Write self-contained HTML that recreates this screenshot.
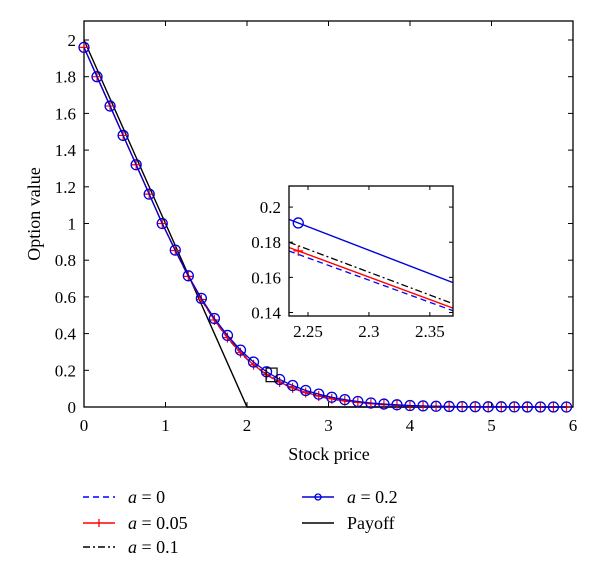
<!DOCTYPE html>
<html><head><meta charset="utf-8"><style>
html,body{margin:0;padding:0;background:#fff;}
svg{display:block;font-family:"Liberation Serif",serif;}
</style></head><body>
<svg id="chart" width="600" height="578" viewBox="0 0 600 578"></svg>
<script>
const xs = [0,0.16,0.32,0.48,0.64,0.8,0.96,1.12,1.28,1.44,1.6,1.76,1.92,2.08,2.24,2.4,2.56,2.72,2.88,3.04,3.2,3.36,3.52,3.68,3.84,4.0,4.16,4.32,4.48,4.64,4.8,4.96,5.12,5.28,5.44,5.6,5.76,5.92];
const a02 = [1.96,1.80,1.64,1.48,1.32,1.16,1.0,0.855,0.715,0.592,0.482,0.39,0.31,0.245,0.192,0.15,0.117,0.09,0.07,0.053,0.04,0.03,0.022,0.016,0.012,0.008,0.006,0.004,0.003,0.002,0.0015,0.001,0.001,0.0005,0.0003,0.0002,0.0001,0];
const a005 = [1.96,1.80,1.64,1.48,1.32,1.16,1.0,0.853,0.712,0.586,0.474,0.378,0.296,0.23,0.177,0.136,0.104,0.079,0.06,0.045,0.034,0.025,0.018,0.013,0.009,0.006,0.004,0.003,0.002,0.001,0.001,0.0005,0.0003,0.0002,0.0001,0,0,0];
const a0 = a005.map((v,i)=>v - (i>=8&&i<=20?0.0025:0));
const a01 = a005.map((v,i)=>v + (i>=8&&i<=20?0.003:0));
const payoffX = [0,2,6];
const payoffY = [2,0,0];
const xTicks = [0,1,2,3,4,5,6];
const yTicks = [0,0.2,0.4,0.6,0.8,1,1.2,1.4,1.6,1.8,2];
const yTickLabels = ["0","0.2","0.4","0.6","0.8","1","1.2","1.4","1.6","1.8","2"];
const inXTicks = [2.25,2.3,2.35];
const inYTicks = [0.14,0.16,0.18,0.2];
const inYTickLabels = ["0.14","0.16","0.18","0.2"];
const inX0=[2.2344,2.369], inY0=[0.138,0.212];
const inA02=[0.193,0.157], inA005=[0.177,0.1425], inA01=[0.180,0.145], inA0=[0.175,0.141];

const NS="http://www.w3.org/2000/svg";
const svg=document.getElementById('chart');
function mk(t,at,parent){const e=document.createElementNS(NS,t);for(const k in at)e.setAttribute(k,at[k]);(parent||svg).appendChild(e);return e;}
// main axes
const L=84,R=573,T=21,B=407;
const X=v=>L+v*(R-L)/6.0;
const Y=v=>B-v*183.5;
const plot=mk('g',{});


const frame=mk('rect',{x:L,y:T,width:R-L,height:B-T,fill:'none',stroke:'#000','stroke-width':1.3},plot);


xTicks.forEach(t=>{
  mk('line',{x1:X(t),x2:X(t),y1:B,y2:B-5,stroke:'#000'},plot);
  mk('line',{x1:X(t),x2:X(t),y1:T,y2:T+5,stroke:'#000'},plot);
  const tx=mk('text',{x:X(t),y:431,'text-anchor':'middle','font-size':17},plot);tx.textContent=t;
  
  
});
yTicks.forEach((t,i)=>{
  mk('line',{x1:L,x2:L+5,y1:Y(t),y2:Y(t),stroke:'#000'},plot);
  mk('line',{x1:R,x2:R-5,y1:Y(t),y2:Y(t),stroke:'#000'},plot);
  const tx=mk('text',{x:L-8,y:Y(t)+6,'text-anchor':'end','font-size':17},plot);tx.textContent=yTickLabels[i];
  
  
});
const xt=mk('text',{x:329,y:460,'text-anchor':'middle','font-size':18});xt.textContent='Stock price';


const yt=mk('text',{x:40,y:214,'text-anchor':'middle','font-size':18,transform:'rotate(-90 40 214)'});yt.textContent='Option value';


function pts(xa,ya,fx,fy){return xa.map((x,i)=>fx(x)+','+fy(ya[i])).join(' ');}
function series(name,xa,ya,fx,fy,st,parent){const p=mk('polyline',Object.assign({points:pts(xa,ya,fx,fy),fill:'none'},st),parent);return p;}
series('series-payoff',payoffX,payoffY,X,Y,{stroke:'#000','stroke-width':1.4},plot);
series('series-a-0',xs,a0,X,Y,{stroke:'#0000ff','stroke-width':1.2,'stroke-dasharray':'6 4'},plot);
series('series-a-0-1',xs,a01,X,Y,{stroke:'#000','stroke-width':1.2,'stroke-dasharray':'7 3 2 3'},plot);
series('series-a-0-05',xs,a005,X,Y,{stroke:'#ff0000','stroke-width':1.3},plot);
xs.forEach((x,i)=>{
  const g=mk('path',{d:`M${X(x)-5},${Y(a005[i])}h10M${X(x)},${Y(a005[i])-5}v10`,stroke:'#ff0000','stroke-width':1.2},plot);
  
  
});
series('series-a-0-2',xs,a02,X,Y,{stroke:'#0000dd','stroke-width':1.3},plot);
xs.forEach((x,i)=>{
  const c=mk('circle',{cx:X(x),cy:Y(a02[i]),r:5,fill:'none',stroke:'#0000dd','stroke-width':1.3},plot);
  
  
});
// zoom box
const zb=mk('rect',{x:X(inX0[0]),y:Y(inY0[1]),width:X(inX0[1])-X(inX0[0]),height:Y(inY0[0])-Y(inY0[1]),fill:'none',stroke:'#000','stroke-width':1.2},plot);


// inset
const IL=289,IR=453,IT=186,IB=316;
const IX=v=>IL+(v-inX0[0])*(IR-IL)/(inX0[1]-inX0[0]);
const IY=v=>IB-(v-inY0[0])*(IB-IT)/(inY0[1]-inY0[0]);
const ins=mk('g',{});


mk('rect',{x:IL,y:IT,width:IR-IL,height:IB-IT,fill:'#fff',stroke:'none'},ins);
const cp=mk('clipPath',{id:'ic'},ins);mk('rect',{x:IL,y:IT,width:IR-IL,height:IB-IT},cp);
const ig=mk('g',{'clip-path':'url(#ic)'},ins);
series('inset-a-0',inX0,inA0,IX,IY,{stroke:'#0000ff','stroke-width':1.3,'stroke-dasharray':'6 4'},ig);
series('inset-a-0-1',inX0,inA01,IX,IY,{stroke:'#000','stroke-width':1.3,'stroke-dasharray':'7 3 2 3'},ig);
series('inset-a-0-05',inX0,inA005,IX,IY,{stroke:'#ff0000','stroke-width':1.4},ig);
series('inset-a-0-2',inX0,inA02,IX,IY,{stroke:'#0000dd','stroke-width':1.4},ig);
const mx=2.242;
const ic=mk('circle',{cx:IX(mx),cy:IY(inA02[0]+(inA02[1]-inA02[0])*(mx-inX0[0])/(inX0[1]-inX0[0])),r:5,fill:'none',stroke:'#0000dd','stroke-width':1.3},ig);


const ry=IY(inA005[0]+(inA005[1]-inA005[0])*(mx-inX0[0])/(inX0[1]-inX0[0]));
const ip=mk('path',{d:`M${IX(mx)-5},${ry}h10M${IX(mx)},${ry-5}v10`,stroke:'#ff0000','stroke-width':1.2},ig);


mk('rect',{x:IL,y:IT,width:IR-IL,height:IB-IT,fill:'none',stroke:'#000','stroke-width':1.3},ins);
inXTicks.forEach(t=>{
  mk('line',{x1:IX(t),x2:IX(t),y1:IB,y2:IB-4,stroke:'#000'},ins);
  mk('line',{x1:IX(t),x2:IX(t),y1:IT,y2:IT+4,stroke:'#000'},ins);
  const tx=mk('text',{x:IX(t),y:337,'text-anchor':'middle','font-size':17},ins);tx.textContent=t;
  
  
});
inYTicks.forEach((t,i)=>{
  mk('line',{x1:IL,x2:IL+4,y1:IY(t),y2:IY(t),stroke:'#000'},ins);
  mk('line',{x1:IR,x2:IR-4,y1:IY(t),y2:IY(t),stroke:'#000'},ins);
  const tx=mk('text',{x:IL-8,y:IY(t)+6,'text-anchor':'end','font-size':17},ins);tx.textContent=inYTickLabels[i];
  
  
});
// legend
const lg=mk('g',{});


const entries=[
 {x:83,y:497,label:'0',st:{stroke:'#0000ff','stroke-dasharray':'6 4'},m:null,name:'legend-entry-a-0'},
 {x:83,y:523,label:'0.05',st:{stroke:'#ff0000'},m:'plus',name:'legend-entry-a-0-05'},
 {x:83,y:547,label:'0.1',st:{stroke:'#000','stroke-dasharray':'7 3 2 3'},m:null,name:'legend-entry-a-0-1'},
 {x:302,y:497,label:'0.2',st:{stroke:'#0000dd'},m:'circ',name:'legend-entry-a-0-2'},
 {x:302,y:523,label:null,st:{stroke:'#000'},m:null,name:'legend-entry-payoff'}
];
entries.forEach(e=>{
  const g=mk('g',{},lg);
  
  
  mk('line',Object.assign({x1:e.x,x2:e.x+32,y1:e.y,y2:e.y,'stroke-width':1.4},e.st),g);
  if(e.m==='plus')mk('path',{d:`M${e.x+16},${e.y-4}v8`,stroke:'#ff0000','stroke-width':1.3},g);
  if(e.m==='circ')mk('circle',{cx:e.x+16,cy:e.y,r:3,fill:'none',stroke:'#0000dd','stroke-width':1.3},g);
  const t=mk('text',{x:e.x+45,y:e.y+6,'font-size':18},g);
  if(e.label===null){t.textContent='Payoff';}
  else{t.innerHTML='<tspan font-style="italic">a</tspan> = '+e.label;}
});
</script>
</body></html>
